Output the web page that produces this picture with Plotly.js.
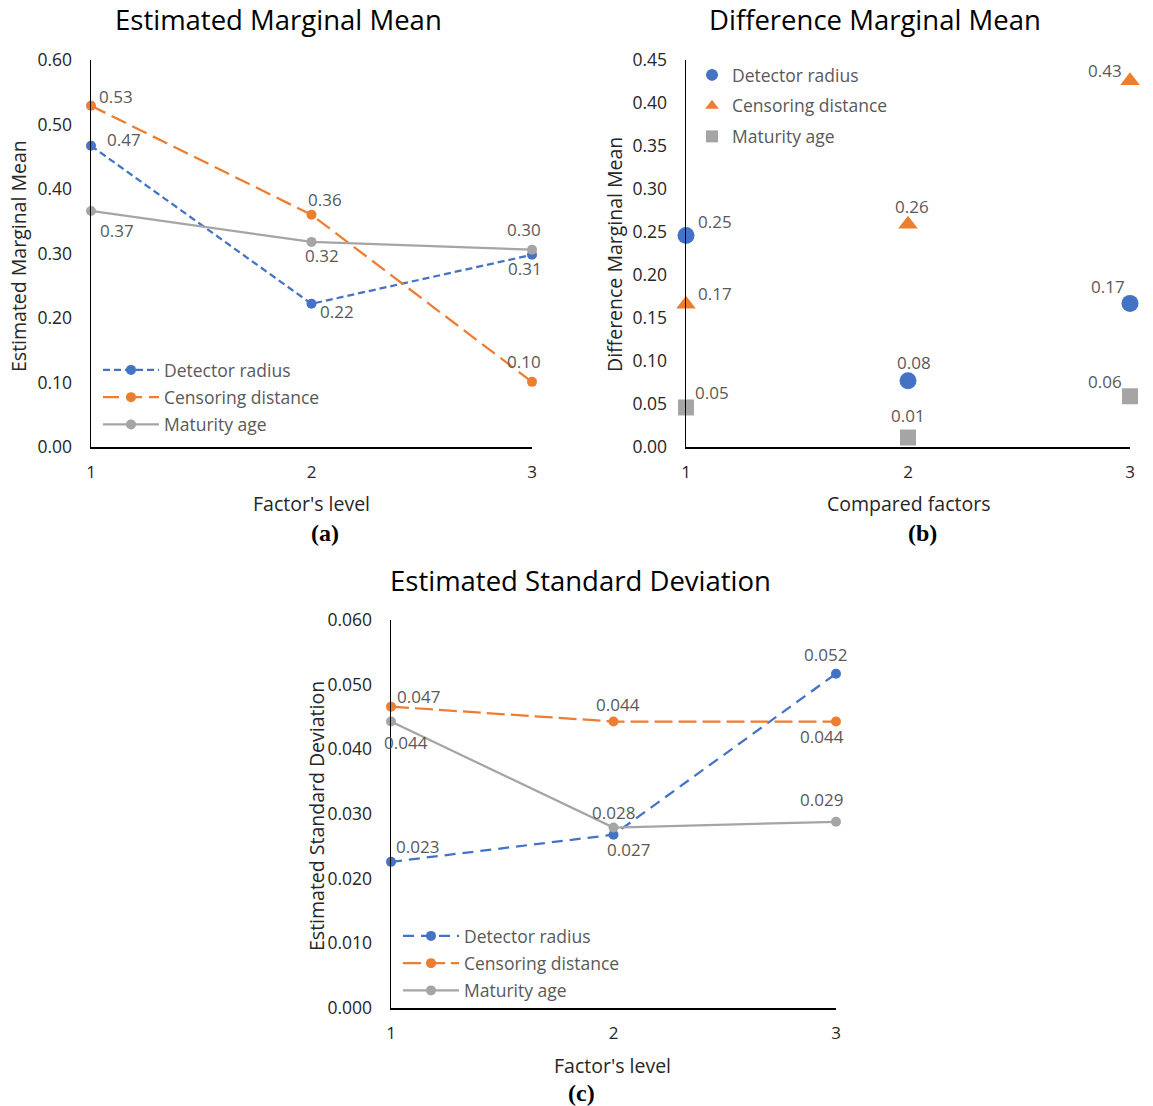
<!DOCTYPE html>
<html>
<head>
<meta charset="utf-8">
<script src="https://cdn.plot.ly/plotly-3.0.1.min.js"></script>
<style>html,body{margin:0;padding:0;background:#fff;}#chart{width:1153px;height:1106px;}</style>
</head>
<body>
<div id="chart"></div>
<script>
// ---------------- DATA ----------------
const seriesNames = ["Detector radius", "Censoring distance", "Maturity age"];
const levels = [1, 2, 3];
const tickLevels = ["1", "2", "3"];

// (a) Estimated Marginal Mean
const emmDetector = [0.467, 0.222, 0.298];
const emmCensoring = [0.529, 0.360, 0.101];
const emmMaturity = [0.366, 0.318, 0.306];

// (b) Difference Marginal Mean
const dmmDetector = [0.246, 0.077, 0.167];
const dmmCensoring = [0.166, 0.259, 0.426];
const dmmMaturity = [0.046, 0.011, 0.059];

// (c) Estimated Standard Deviation
const esdDetector = [0.0226, 0.0268, 0.0517];
const esdCensoring = [0.0466, 0.0443, 0.0443];
const esdMaturity = [0.0443, 0.0279, 0.0288];

// ---------------- STYLE ----------------
const W = 1153, H = 1106;
const BLUE = "#4472C4", ORANGE = "#ED7D31", GRAY = "#A5A5A5";
const FONT = "Open Sans, sans-serif";
const TXT = "#595959";
const px = v => v / W;
const py = v => 1 - v / H;

// label offsets [dx, dy] in pixels (dy positive = down)
const offA = {
  d: [[33, -6], [25, 8], [-8, -25]],
  c: [[25, -9], [13, -15], [-8, -20]],
  m: [[26, 20], [10, 14], [-7, 19]]
};
const offB = {
  d: [[29, -14], [6, -18], [-22, -17]],
  c: [[29, -11], [4, -18], [-25, -10]],
  m: [[26, -15], [0, -22], [-25, -15]]
};
const offC = {
  d: [[26, -15], [15, 15], [-11, -19]],
  c: [[27, -10], [4, -17], [-14, 15]],
  m: [[15, 21], [0, -15], [-15, -22]]
};

function labels(xr, yr, vals, off, digits) {
  return vals.map((v, i) => ({
    xref: xr, yref: yr, x: levels[i], y: v, text: v.toFixed(digits),
    showarrow: false, xshift: off[i][0], yshift: -off[i][1],
    font: {family: FONT, size: 17, color: TXT}
  }));
}

const traces = [
  // (a)
  {x: levels, y: emmDetector, name: seriesNames[0], xaxis: "x", yaxis: "y", legend: "legend",
   mode: "lines+markers", line: {color: BLUE, width: 2.25, dash: "7px,4px"}, marker: {color: BLUE, size: 10}, cliponaxis: false},
  {x: levels, y: emmCensoring, name: seriesNames[1], xaxis: "x", yaxis: "y", legend: "legend",
   mode: "lines+markers", line: {color: ORANGE, width: 2.25, dash: "16px,7px"}, marker: {color: ORANGE, size: 10}, cliponaxis: false},
  {x: levels, y: emmMaturity, name: seriesNames[2], xaxis: "x", yaxis: "y", legend: "legend",
   mode: "lines+markers", line: {color: GRAY, width: 2.25}, marker: {color: GRAY, size: 10}, cliponaxis: false},
  // (b)
  {x: levels, y: dmmDetector, name: seriesNames[0], xaxis: "x2", yaxis: "y2", legend: "legend2",
   mode: "markers", marker: {color: BLUE, size: 17, symbol: "circle"}, cliponaxis: false},
  {x: levels, y: dmmCensoring, name: seriesNames[1], xaxis: "x2", yaxis: "y2", legend: "legend2",
   mode: "markers", marker: {color: ORANGE, size: 17, symbol: "triangle-up"}, cliponaxis: false},
  {x: levels, y: dmmMaturity, name: seriesNames[2], xaxis: "x2", yaxis: "y2", legend: "legend2",
   mode: "markers", marker: {color: GRAY, size: 16, symbol: "square"}, cliponaxis: false},
  // (c)
  {x: levels, y: esdDetector, name: seriesNames[0], xaxis: "x3", yaxis: "y3", legend: "legend3",
   mode: "lines+markers", line: {color: BLUE, width: 2.25, dash: "11px,7px"}, marker: {color: BLUE, size: 10}, cliponaxis: false},
  {x: levels, y: esdCensoring, name: seriesNames[1], xaxis: "x3", yaxis: "y3", legend: "legend3",
   mode: "lines+markers", line: {color: ORANGE, width: 2.25, dash: "18px,6px"}, marker: {color: ORANGE, size: 10}, cliponaxis: false},
  {x: levels, y: esdMaturity, name: seriesNames[2], xaxis: "x3", yaxis: "y3", legend: "legend3",
   mode: "lines+markers", line: {color: GRAY, width: 2.25}, marker: {color: GRAY, size: 10}, cliponaxis: false}
];
traces.forEach((t, i) => { t.legendgroup = "g" + i; t.showlegend = true; t.hoverinfo = "skip"; });

function xax(d0, d1, anchor) {
  return {domain: [px(d0), px(d1)], range: [1, 3], anchor: anchor, tickvals: levels, ticktext: tickLevels,
    showline: true, linecolor: "#000", linewidth: 1.5, showgrid: false, zeroline: false, ticks: "",
    ticklabelstandoff: 9, tickfont: {family: FONT, size: 17, color: "#262626"}, fixedrange: true};
}
function yax(t0, t1, anchor, top, dt, fmt) {
  return {domain: [py(t1), py(t0)], range: [0, top], anchor: anchor, dtick: dt, tick0: 0, tickformat: fmt,
    showline: true, linecolor: "#000", linewidth: 1.5, showgrid: false, zeroline: false, ticks: "",
    ticklabelstandoff: 14, tickfont: {family: FONT, size: 17.5, color: "#262626"}, fixedrange: true};
}

function ann(text, x, y, size, opts) {
  return Object.assign({xref: "paper", yref: "paper", x: px(x), y: py(y), text: text, showarrow: false,
    xanchor: "center", yanchor: "middle", font: {family: FONT, size: size, color: "#262626"}}, opts || {});
}
const TITLEF = {family: FONT, size: 27.5, color: "#000"};
const PANELF = {family: "Liberation Serif, serif", size: 24, color: "#000"};

const annotations = [
  ann("Estimated Marginal Mean", 278, 20, 27.5, {font: TITLEF}),
  ann("Difference Marginal Mean", 875, 20, 27.5, {font: TITLEF}),
  ann("Estimated Standard Deviation", 580, 580, 27.5, {font: TITLEF}),
  ann("Factor's level", 311, 503, 19.5),
  ann("Compared factors", 908, 503, 19.5),
  ann("Factor's level", 613, 1065, 19.5),
  ann("Estimated Marginal Mean", 19, 256, 19.5, {textangle: -90}),
  ann("Difference Marginal Mean", 614, 255, 19.5, {textangle: -90}),
  ann("Estimated Standard Deviation", 316, 816, 19.5, {textangle: -90}),
  ann("<b>(a)</b>", 325, 533, 24, {font: PANELF}),
  ann("<b>(b)</b>", 922, 533, 24, {font: PANELF}),
  ann("<b>(c)</b>", 581, 1093, 24, {font: PANELF})
].concat(
  labels("x", "y", emmDetector, offA.d, 2),
  labels("x", "y", emmCensoring, offA.c, 2),
  labels("x", "y", emmMaturity, offA.m, 2),
  labels("x2", "y2", dmmDetector, offB.d, 2),
  labels("x2", "y2", dmmCensoring, offB.c, 2),
  labels("x2", "y2", dmmMaturity, offB.m, 2),
  labels("x3", "y3", esdDetector, offC.d, 3),
  labels("x3", "y3", esdCensoring, offC.c, 3),
  labels("x3", "y3", esdMaturity, offC.m, 3)
);

function leg(x, y, iw, gap, sizing) {
  return {x: px(x), y: py(y), xanchor: "left", yanchor: "top", bgcolor: "rgba(0,0,0,0)", borderwidth: 0,
    itemwidth: iw, tracegroupgap: gap, itemsizing: sizing || "trace", itemclick: false, itemdoubleclick: false,
    font: {family: FONT, size: 17.5, color: TXT}};
}

const layout = {
  width: W, height: H, autosize: false,
  margin: {l: 0, r: 0, t: 0, b: 0},
  paper_bgcolor: "#fff", plot_bgcolor: "rgba(0,0,0,0)",
  showlegend: true,
  xaxis: xax(91, 532, "y"),
  yaxis: yax(60, 447, "x", 0.6, 0.1, ".2f"),
  xaxis2: xax(686, 1130, "y2"),
  yaxis2: yax(60, 447, "x2", 0.45, 0.05, ".2f"),
  xaxis3: xax(391, 836, "y3"),
  yaxis3: yax(620, 1008, "x3", 0.06, 0.01, ".3f"),
  legend: leg(98, 352, 56, 1.5),
  legend2: leg(692, 57, 30, 5, "constant"),
  legend3: leg(398, 918, 56, 1.5),
  annotations: annotations,
  hovermode: false
};

Plotly.newPlot("chart", traces, layout, {displayModeBar: false, staticPlot: true});
</script>
</body>
</html>
